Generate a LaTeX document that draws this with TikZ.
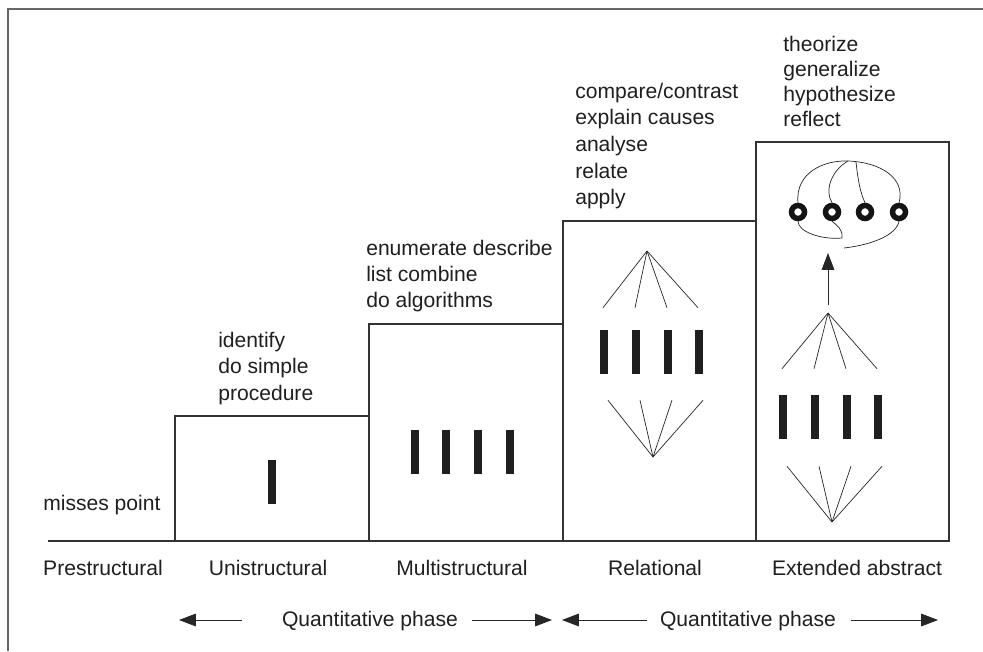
\documentclass[tikz,border=0pt]{standalone}
\usepackage{fontspec}
\setmainfont{Liberation Sans}
\usetikzlibrary{arrows.meta,calc,positioning}

\begin{document}
\begin{tikzpicture}[x=0.025cm, y=-0.025cm,
        every node/.style={font=\fontsize{15}{19}\selectfont, text=black!88},
        verb/.style={anchor=base west, inner sep=0pt},
        level/.style={anchor=base, inner sep=0pt},
        stage/.style={draw=black!80, line width=0.9pt},
        bar/.style={rectangle, fill=black!88, inner sep=0pt, minimum width=\barw, minimum height=\barh},
        fan/.style={draw=black!85, line width=0.5pt},
        ring/.style={circle, draw=black!92, line width=3.9pt, minimum size=\ringsize, inner sep=0pt},
        phase/.style={draw=black!85, line width=0.6pt, -{Triangle[length=12pt, width=9pt]}}]
        \def\px{0.025}
        \def\barw{8.5*\px cm}
        \def\barh{44*\px cm}
        \def\ringsize{13*\px cm}
        \useasboundingbox (0,0) rectangle (983,651);
        \draw[black!60, line width=1.2pt] (983,9) -- (8,9) -- (8,651);

        \draw[black!80, line width=0.9pt] (48,541) -- (942,541);
        \draw[stage] (175,541) rectangle (369,416);
        \draw[stage] (369,541) rectangle (563,324);
        \draw[stage] (563,541) rectangle (756,221);
        \draw[stage] (756,541) rectangle (949,142);

        \node(uni) [bar] at (272,482) {};
        \foreach \x [count=\i] in {415,446,478,510}
            \node(multi\i) [bar] at (\x,452) {};
        \foreach \x [count=\i] in {604,636,668,699}
            \node(rel\i) [bar] at (\x,352) {};
        \foreach \x [count=\i] in {783,815,847,878}
            \node(ext\i) [bar] at (\x,417) {};

        \coordinate (relTop) at (647,251);
        \coordinate (relBot) at (653,457);
        \coordinate (extTop) at (828,313);
        \coordinate (extBot) at (832,522);
        \foreach \i in {1,...,4} {
            \draw[fan] (relTop) -- ($(rel\i.north)+(-1,-22)$);
            \draw[fan] (relBot) -- ($(rel\i.south)+(4,26)$);
            \draw[fan] (extTop) -- ($(ext\i.north)+(-1,-26)$);
            \draw[fan] (extBot) -- ($(ext\i.south)+(4,27)$);
        }

        \coordinate (riseA) at (828,305);
        \coordinate (riseB) at (828,253);
        \draw[phase] (riseA) -- (riseB);

        \foreach \x [count=\i] in {798,832,865,899}
            \node(ring\i) [ring] at (\x,212) {};
        \draw[fan] (ring1.north) .. controls (795,172) and (825,160) .. (848,161)
            .. controls (880,162) and (906,178) .. (ring4.north);
        \draw[fan] (848,161) .. controls (832,170) and (824,190) .. (ring2.north);
        \draw[fan] (856,162) .. controls (858,180) and (860,192) .. (ring3.north);
        \draw[fan] (ring1.south) .. controls (798,232) and (822,240) .. (842,238);
        \draw[fan] (ring2.south) .. controls (838,226) and (843,230) .. (842,238);
        \draw[fan] (844,248) .. controls (870,245) and (896,236) .. (ring4.south);

        \node(miss) [verb] at (43,510) {misses point};
        \foreach \t [count=\i] in {identify, do simple, procedure}
            \node(univ\i) [verb] at (218,{347+26.5*(\i-1)}) {\t};
        \foreach \t [count=\i] in {enumerate describe, list combine, do algorithms}
            \node(multiv\i) [verb] at (366,{255+26*(\i-1)}) {\t};
        \foreach \t [count=\i] in {compare/contrast, explain causes, analyse, relate, apply}
            \node(relv\i) [verb] at (575,{98+26.7*(\i-1)}) {\t};
        \foreach \t [count=\i] in {theorize, generalize, hypothesize, reflect}
            \node(extv\i) [verb] at (783,{51+25*(\i-1)}) {\t};

        \node(pre) [level] at (103,575) {Prestructural};
        \node(unil) [level] at (268,575) {Unistructural};
        \node(multil) [level] at (462,575) {Multistructural};
        \node(rell) [level] at (655,575) {Relational};
        \node(extl) [level] at (857,575) {Extended abstract};

        \node(quant1) [level] at (370,626) {Quantitative phase};
        \node(quant2) [level] at (748,626) {Quantitative phase};
        \coordinate (q1a) at (242,620);
        \coordinate (q1b) at (179,620);
        \coordinate (q1c) at (472,620);
        \coordinate (q1d) at (552,620);
        \coordinate (q2a) at (647,620);
        \coordinate (q2b) at (562,620);
        \coordinate (q2c) at (851,620);
        \coordinate (q2d) at (938,620);
        \draw[phase] (q1a) -- (q1b);
        \draw[phase] (q1c) -- (q1d);
        \draw[phase] (q2a) -- (q2b);
        \draw[phase] (q2c) -- (q2d);
    \end{tikzpicture}
\end{document}
